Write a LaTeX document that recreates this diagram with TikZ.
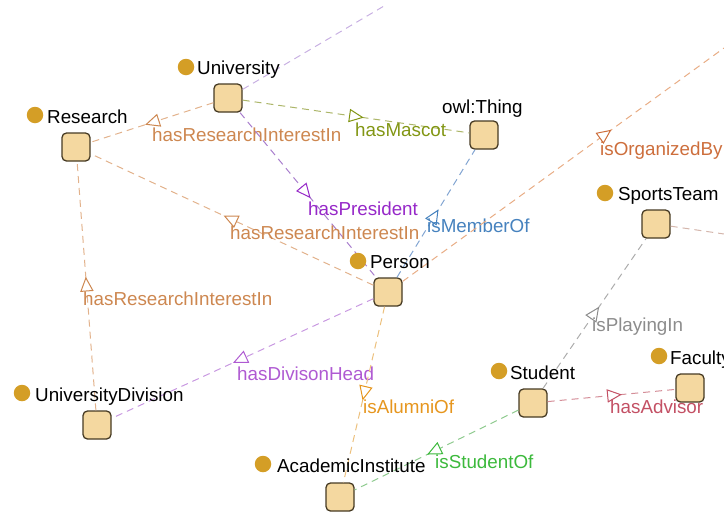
\documentclass[tikz,border=0pt]{standalone}
\usepackage{fontspec}
\setmainfont{Liberation Sans}
\usetikzlibrary{shapes.geometric}
\definecolor{clsfill}{RGB}{244,216,160}
\definecolor{clsborder}{RGB}{70,58,35}
\definecolor{dotc}{RGB}{212,158,38}
\definecolor{crii}{RGB}{205,135,80}
\definecolor{lrii}{RGB}{226,178,140}
\definecolor{cmascot}{RGB}{130,150,20}
\definecolor{lmascot}{RGB}{172,182,105}
\definecolor{cpres}{RGB}{150,40,200}
\definecolor{lpres}{RGB}{168,125,205}
\definecolor{cmember}{RGB}{70,130,190}
\definecolor{lmember}{RGB}{130,165,210}
\definecolor{corg}{RGB}{205,110,60}
\definecolor{lorg}{RGB}{232,172,132}
\definecolor{cdiv}{RGB}{175,90,210}
\definecolor{ldiv}{RGB}{200,152,225}
\definecolor{calum}{RGB}{230,150,30}
\definecolor{lalum}{RGB}{236,192,125}
\definecolor{cplay}{RGB}{140,140,140}
\definecolor{lplay}{RGB}{172,172,172}
\definecolor{cadv}{RGB}{195,80,100}
\definecolor{ladv}{RGB}{212,142,152}
\definecolor{cstud}{RGB}{60,185,60}
\definecolor{lstud}{RGB}{142,202,142}
\definecolor{ltop}{RGB}{200,176,226}
\definecolor{lsports}{RGB}{212,182,172}
\begin{document}
\begin{tikzpicture}[x=1pt,y=-1pt,
  cls/.style={draw=clsborder, fill=clsfill, rounded corners=4.5pt, minimum size=28pt, inner sep=0pt, line width=1.3pt},
  dot/.style={circle, fill=dotc, minimum size=16.5pt, inner sep=0pt},
  clabel/.style={anchor=base west, inner sep=0pt, text=black, font=\fontsize{18.8}{22}\selectfont},
  elabel/.style={anchor=base west, inner sep=0pt, font=\fontsize{18.8}{22}\selectfont},
  edge/.style={line width=1pt, dash pattern=on 7pt off 5pt},
  tri/.style={shape=isosceles triangle, isosceles triangle stretches, minimum width=12pt, minimum height=13pt, inner sep=0pt, fill=white, line width=1pt, sloped, allow upside down}
]
\useasboundingbox (0,0) rectangle (724,512);
\clip (0,0) rectangle (724,512);

% class boxes
\node[cls] (univ) at (228,98) {};
\node[cls] (res) at (76,147) {};
\node[cls] (thing) at (484,135) {};
\node[cls] (sports) at (656,224) {};
\node[cls] (person) at (388,292) {};
\node[cls] (student) at (533,403) {};
\node[cls] (fac) at (690,388) {};
\node[cls] (udiv) at (97,425) {};
\node[cls] (acad) at (340,497) {};
\coordinate (offtop) at (384,6);
\coordinate (offne) at (724,48);
\coordinate (offe) at (724,234);

% edges
\draw[edge, draw=ltop] (univ) -- (offtop);
\draw[edge, draw=lsports] (sports) -- (offe);

\draw[edge, draw=lrii] (univ) -- (res);
\path (univ.center) -- node[tri, draw=crii, pos=.48] {} (res.center);
\node[elabel, text=crii] at (152,141) {hasResearchInterestIn};

\draw[edge, draw=lmascot] (univ) -- (thing);
\path (univ.center) -- node[tri, draw=cmascot, pos=.49] {} (thing.center);
\node[elabel, text=cmascot] at (355,136) {hasMascot};

\draw[edge, draw=lpres] (univ) -- (person);
\path (univ.center) -- node[tri, draw=cpres, pos=.475] {} (person.center);

\draw[edge, draw=lrii] (person) -- (res);
\path (person.center) -- node[tri, draw=crii, pos=.497] {} (res.center);

\draw[edge, draw=lrii] (udiv) -- (res);
\path (udiv.center) -- node[tri, draw=crii, pos=.496] {} (res.center);
\node[elabel, text=crii] at (83,305) {hasResearchInterestIn};

\draw[edge, draw=lmember] (person) -- (thing);
\path (person.center) -- node[tri, draw=cmember, pos=.47] {} (thing.center);
\node[elabel, text=cmember] at (427,232) {isMemberOf};

\draw[edge, draw=lorg] (person) -- (offne);
\path (person.center) -- node[tri, draw=corg, pos=.64] {} (offne);
\node[elabel, text=corg] at (600,155) {isOrganizedBy};

\draw[edge, draw=ldiv] (person) -- (udiv);
\path (person.center) -- node[tri, draw=cdiv, pos=.5] {} (udiv.center);
\node[elabel, text=cdiv] at (237,380) {hasDivisonHead};

\draw[edge, draw=lalum] (person) -- (acad);
\path (person.center) -- node[tri, draw=calum, pos=.48] {} (acad.center);
\node[elabel, text=calum] at (363,413) {isAlumniOf};

\draw[edge, draw=lplay] (student) -- (sports);
\path (student.center) -- node[tri, draw=cplay, pos=.49] {} (sports.center);
\node[elabel, text=cplay] at (592,331) {isPlayingIn};

\draw[edge, draw=ladv] (student) -- (fac);
\path (student.center) -- node[tri, draw=cadv, pos=.5] {} (fac.center);
\node[elabel, text=cadv] at (610,413) {hasAdvisor};

\draw[edge, draw=lstud] (student) -- (acad);
\path (student.center) -- node[tri, draw=cstud, pos=.5] {} (acad.center);
\node[elabel, text=cstud] at (435,468) {isStudentOf};

% labels drawn over crossing lines
\node[elabel, text=crii] at (230,239) {hasResearchInterestIn};
\node[elabel, text=cpres] at (308,215) {hasPresident};

% class names
\node[dot] (dunivt) at (186,67) {};
\node[clabel] (lunivt) at (197,74) {University};
\node[dot] (drest) at (35,115) {};
\node[clabel] (lrest) at (47,123) {Research};
\node[clabel] (lthing) at (442,113) {owl:Thing};
\node[dot] (dsports) at (605,193) {};
\node[clabel] (lsportst) at (618,200) {SportsTeam};
\node[dot] (dperson) at (358,261) {};
\node[clabel] (lperson) at (370,268) {Person};
\node[dot] (dstudent) at (499,371) {};
\node[clabel] (lstudent) at (510,379) {Student};
\node[dot] (dfac) at (659,356) {};
\node[clabel] (lfac) at (670,364) {Faculty};
\node[dot] (dudiv) at (22,393) {};
\node[clabel] (ludiv) at (35,401) {UniversityDivision};
\node[dot] (dacad) at (263,464) {};
\node[clabel] (lacad) at (277,472) {AcademicInstitute};
\end{tikzpicture}
\end{document}
